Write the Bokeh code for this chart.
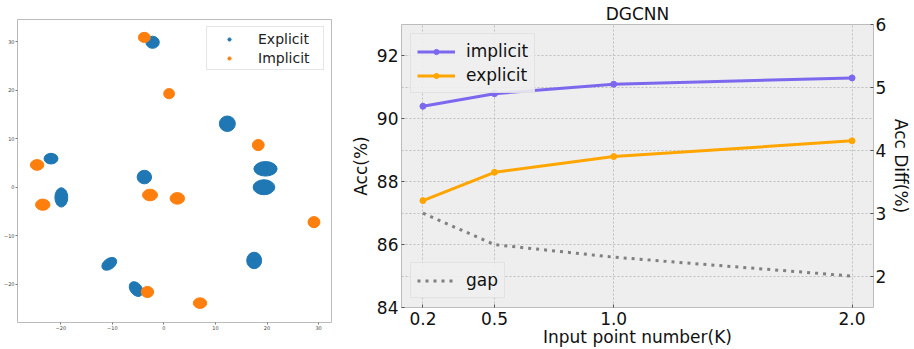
from bokeh.plotting import figure
from bokeh.layouts import row, column
from bokeh.models import (Range1d, LinearAxis, FixedTicker, Legend, LegendItem,
                          CustomJSTickFormatter)
from bokeh.embed import file_html
from bokeh.resources import INLINE

FONT = "DejaVu Sans"

# ---------------- left panel: t-SNE cluster blobs ----------------
explicit_x = [-2.2, 12.3, -21.9, -19.9, -3.8, 19.7, 19.4, 17.5, -10.6, -5.4]
explicit_y = [29.9, 13.1, 5.9, -2.1, 2.1, 3.8, 0.0, -15.1, -15.8, -21.0]
explicit_w = [2.6, 3.1, 2.7, 2.5, 2.8, 4.5, 4.2, 2.9, 3.2, 3.2]
explicit_h = [2.5, 3.2, 2.2, 4.0, 2.8, 3.0, 3.1, 3.4, 2.2, 2.4]
explicit_a = [0, 0, 0, 0, 0, 0, 0, 0, 0.6, -0.9]

implicit_x = [-3.8, 1.0, 18.3, -24.6, -23.5, -2.7, 2.6, 29.1, -3.2, 7.0]
implicit_y = [30.9, 19.3, 8.7, 4.6, -3.6, -1.6, -2.3, -7.2, -21.6, -23.9]
implicit_w = [2.3, 2.1, 2.3, 2.6, 2.8, 2.9, 2.8, 2.3, 2.4, 2.6]
implicit_h = [2.1, 2.1, 2.3, 2.2, 2.3, 2.4, 2.4, 2.3, 2.3, 2.2]

tsne_ticks = [-20, -10, 0, 10, 20, 30]

# ---------------- right panel: accuracy vs point number ----------------
point_k = [0.2, 0.5, 1.0, 2.0]
acc_implicit = [90.4, 90.8, 91.1, 91.3]
acc_explicit = [87.4, 88.3, 88.8, 89.3]
acc_gap = [3.0, 2.5, 2.3, 2.0]
left_ticks = [84, 86, 88, 90, 92]
right_ticks = [2, 3, 4, 5, 6]
grid_ticks = [85, 86, 87, 88, 89, 90, 91, 92]

BLUE = "#1f77b4"
ORANGE = "#ff7f0e"

p1 = figure(width=340, height=349, x_range=Range1d(-28.4, 32.5),
            y_range=Range1d(-27.9, 34.6), output_backend="svg",
            toolbar_location=None, min_border_left=16, min_border_right=9,
            min_border_top=19, min_border_bottom=27)
p1.grid.visible = False
p1.outline_line_color = "#bbbbbb"
p1.background_fill_color = "white"
for ax in (p1.xaxis[0], p1.yaxis[0]):
    ax.ticker = FixedTicker(ticks=tsne_ticks)
    ax.major_label_text_font_size = "5px"
    ax.major_label_text_font = FONT
    ax.major_label_text_color = "#444444"
    ax.major_tick_out = 2
    ax.major_tick_in = 0
    ax.minor_tick_out = 0
    ax.minor_tick_in = 0
    ax.major_tick_line_color = "#777777"
    ax.axis_line_color = None
    ax.major_label_standoff = 1

p1.ellipse(x=explicit_x, y=explicit_y, width=explicit_w, height=explicit_h,
           angle=explicit_a, fill_color=BLUE, line_color=BLUE, line_width=1)
p1.ellipse(x=implicit_x, y=implicit_y, width=implicit_w, height=implicit_h,
           fill_color=ORANGE, line_color=ORANGE, line_width=1)
r_ex = p1.scatter(x=explicit_x, y=explicit_y, size=4, color=BLUE)
r_im = p1.scatter(x=implicit_x, y=implicit_y, size=4, color=ORANGE)
leg1 = Legend(items=[LegendItem(label="Explicit", renderers=[r_ex]),
                     LegendItem(label="Implicit", renderers=[r_im])],
              location="top_right", margin=7, padding=3, glyph_width=38,
              glyph_height=8, label_height=17, label_width=62, spacing=2,
              label_standoff=10,
              label_text_font=FONT, label_text_font_size="14px",
              label_text_color="#222222", border_line_color="#cccccc",
              background_fill_color="white", background_fill_alpha=0.9)
p1.add_layout(leg1)

# right figure
p2 = figure(width=574, height=349, x_range=Range1d(0.11, 2.09),
            y_range=Range1d(84, 93), output_backend="svg",
            toolbar_location=None, title="DGCNN",
            min_border_left=61, min_border_right=34, min_border_top=0,
            min_border_bottom=42)
p2.extra_y_ranges = {"diff": Range1d(1.5, 6)}
p2.title.align = "center"
p2.title.text_font = FONT
p2.title.text_font_size = "17px"
p2.title.text_font_style = "normal"
p2.title.text_color = "#111111"
p2.title.standoff = 2
p2.background_fill_color = "#eeeeee"
p2.outline_line_color = "#bcbcbc"

ax_r = LinearAxis(y_range_name="diff", ticker=FixedTicker(ticks=right_ticks),
                  axis_label="Acc Diff(%)")
p2.add_layout(ax_r, "right")

p2.xaxis[0].ticker = FixedTicker(ticks=point_k)
p2.xaxis[0].formatter = CustomJSTickFormatter(code="return tick.toFixed(1);")
p2.xaxis[0].axis_label = "Input point number(K)"
p2.yaxis[0].ticker = FixedTicker(ticks=left_ticks)
p2.yaxis[0].axis_label = "Acc(%)"
for ax in (p2.xaxis[0], p2.yaxis[0], ax_r):
    ax.axis_line_color = None
    ax.major_tick_in = 3
    ax.major_tick_out = 0
    ax.minor_tick_in = 0
    ax.minor_tick_out = 0
    ax.major_tick_line_color = "#555555"
    ax.major_label_text_font = FONT
    ax.major_label_text_font_size = "17px"
    ax.major_label_text_color = "#111111"
    ax.axis_label_text_font = FONT
    ax.axis_label_text_font_size = "17px"
    ax.axis_label_text_font_style = "normal"
    ax.axis_label_text_color = "#111111"
    ax.major_label_standoff = 3
    ax.axis_label_standoff = 3
p2.xaxis[0].major_label_standoff = 4
p2.xaxis[0].axis_label_standoff = -1
ax_r.major_label_standoff = 2
ax_r.axis_label_standoff = 2

p2.xgrid.ticker = FixedTicker(ticks=point_k)
p2.ygrid.ticker = FixedTicker(ticks=grid_ticks)
for g in (p2.xgrid[0], p2.ygrid[0]):
    g.grid_line_color = "#b2b2b2"
    g.grid_line_dash = "2 2"
    g.grid_line_width = 0.8

IMP = "#7b68ee"
EXP = "#ffa500"
l_im = p2.line(point_k, acc_implicit, color=IMP, line_width=3)
s_im = p2.scatter(point_k, acc_implicit, color=IMP, size=6)
l_ex = p2.line(point_k, acc_explicit, color=EXP, line_width=3)
s_ex = p2.scatter(point_k, acc_explicit, color=EXP, size=6)
l_gap = p2.line(point_k, acc_gap, y_range_name="diff", color="#808080",
                line_width=3, line_dash="3 5")

leg_a = Legend(items=[LegendItem(label="implicit", renderers=[l_im, s_im]),
                      LegendItem(label="explicit", renderers=[l_ex, s_ex])],
               location="top_left", margin=9, padding=6, glyph_width=38,
               glyph_height=13, label_height=22, spacing=2, label_standoff=11,
               label_text_font=FONT, label_text_font_size="17px",
               label_text_color="#111111", border_line_color="#d6d6d6",
               background_fill_color="#eeeeee", background_fill_alpha=0.9)
leg_b = Legend(items=[LegendItem(label="gap", renderers=[l_gap])],
               location="bottom_left", margin=9, padding=6, glyph_width=38,
               glyph_height=13, label_height=22, spacing=2, label_standoff=11,
               label_text_font=FONT, label_text_font_size="17px",
               label_text_color="#111111", border_line_color="#d6d6d6",
               background_fill_color="#eeeeee", background_fill_alpha=0.9)
p2.add_layout(leg_a)
p2.add_layout(leg_b)

layout = row(column(p1), column(p2))
open("out.html", "w").write(file_html(layout, INLINE))
